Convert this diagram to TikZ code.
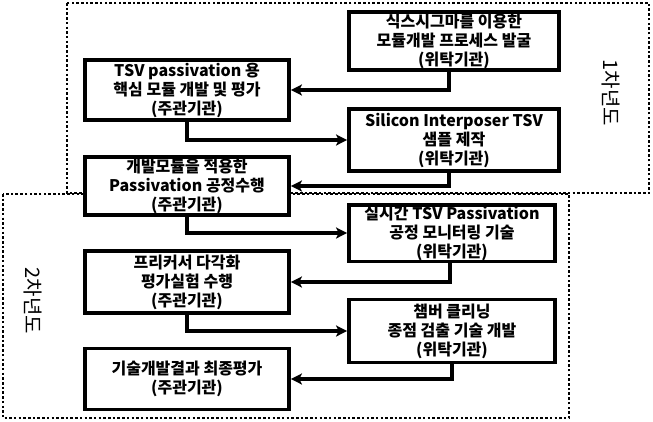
\documentclass[tikz,border=0pt]{standalone}
\usepackage{fontspec}
\setmainfont{Noto Sans CJK KR}
\usetikzlibrary{arrows.meta}
\tikzset{
  box/.style={draw, line width=3.8pt, fill=white, align=center, inner sep=1pt,
    font=\fontsize{16pt}{19pt}\selectfont\bfseries},
  conn/.style={line width=3.8pt, -{Stealth[length=11pt,width=11pt,inset=2.5pt]}},
  yearframe/.style={draw, line width=2.5pt, dash pattern=on 2.5pt off 2.2pt},
  yearlabel/.style={inner sep=0pt},
}
\newcommand{\yeartext}[1]{\rotatebox{-90}{\fontsize{20pt}{22pt}\selectfont #1}}
\begin{document}
\begin{tikzpicture}[x=1pt,y=1pt]
\useasboundingbox (0,0) rectangle (653,-421);
\fill[white] (0,0) rectangle (653,-421);
% year frames
\draw[yearframe] (67,-3) rectangle (649,-193);
\draw[yearframe] (3,-194) rectangle (569,-418);
\node[yearlabel] (y1) at (611,-93) {\yeartext{1차년도}};
\node[yearlabel] (y2) at (33,-301) {\yeartext{2차년도}};
% boxes
\node[box, minimum width=210pt, minimum height=58pt] (A) at (454,-41) {식스시그마를 이용한\\모듈개발 프로세스 발굴\\(위탁기관)};
\node[box, minimum width=204pt, minimum height=60pt] (B) at (187,-90) {TSV passivation 용\\핵심 모듈 개발 및 평가\\(주관기관)};
\node[box, minimum width=210pt, minimum height=62pt] (C) at (454,-140) {Silicon Interposer TSV\\샘플 제작\\(위탁기관)};
\node[box, minimum width=204pt, minimum height=58pt] (D) at (187,-186) {개발모듈을 적용한\\Passivation 공정수행\\(주관기관)};
\node[box, minimum width=206pt, minimum height=56pt] (E) at (452,-233) {실시간 TSV Passivation\\공정 모니터링 기술\\(위탁기관)};
\node[box, minimum width=204pt, minimum height=62pt] (F) at (187,-282) {프리커서 다각화\\평가실험 수행\\(주관기관)};
\node[box, minimum width=206pt, minimum height=63pt] (G) at (452,-331) {챔버 클리닝\\종점 검출 기술 개발\\(위탁기관)};
\node[box, minimum width=204pt, minimum height=61pt] (H) at (187,-379) {기술개발결과 최종평가\\(주관기관)};
% connectors
\draw[conn] ([xshift=-5pt]A.south) |- (B.east);
\draw[conn] (B.south) |- (C.west);
\draw[conn] ([xshift=-5pt]C.south) |- (D.east);
\draw[conn] (D.south) |- (E.west);
\draw[conn] ([xshift=-2pt]E.south) |- (F.east);
\draw[conn] (F.south) |- (G.west);
\draw[conn] (G.south) |- (H.east);
\end{tikzpicture}
\end{document}
